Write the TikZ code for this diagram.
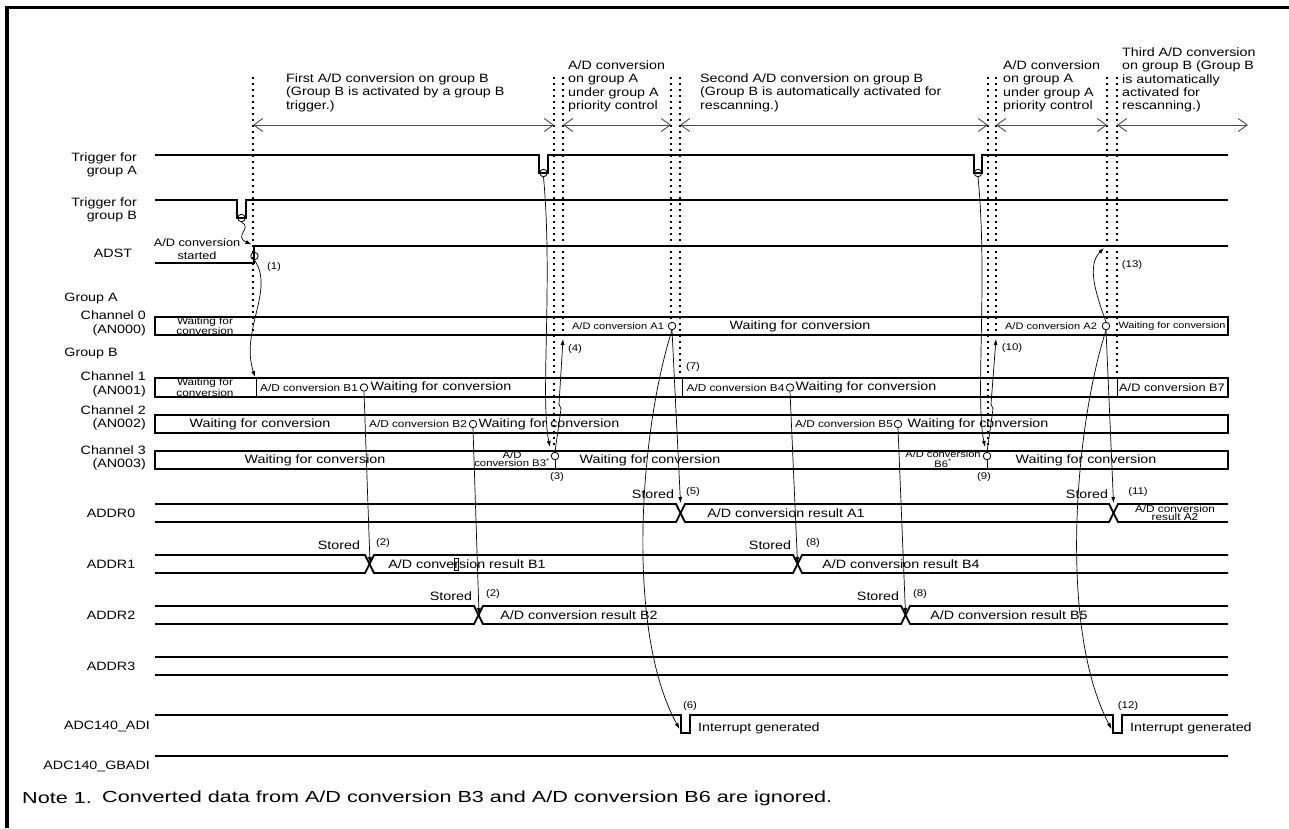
\documentclass[tikz,border=0pt]{standalone}
\usepackage{fontspec}
\setmainfont{Liberation Sans}[FakeStretch=1.18]
\newfontfamily\notefont{Liberation Sans}[FakeStretch=1.35]
\usetikzlibrary{arrows.meta,positioning}

\newcommand{\fs}[2]{\fontsize{#1}{#2}\selectfont}

\begin{document}
\begin{tikzpicture}[
  x=1pt, y=-1pt,
  txt/.style={font=\fs{12.1}{13.3}, inner sep=0pt, align=center},
  midtxt/.style={font=\fs{10.8}{13}, inner sep=0pt, align=center},
  smltxt/.style={font=\fs{10}{8.6}, inner sep=0pt, align=center},
  atxt/.style={font=\fs{9.4}{10}, inner sep=0pt},
  numtxt/.style={font=\fs{9.7}{10}, inner sep=0pt},
  hdtxt/.style={txt, align=left, anchor=north west},
  lbtxt/.style={txt, align=right, anchor=east},
  sig/.style={line width=1.8pt},
  lane/.style={line width=1.5pt},
  divider/.style={line width=0.8pt},
  phase/.style={line width=2.2pt, dash pattern=on 2.2pt off 3.8pt},
  spanarrow/.style={{Straight Barb[length=9pt,width=13pt]}-{Straight Barb[length=9pt,width=13pt]},
    black!70, line width=0.9pt},
  flow/.style={-{Latex[length=6pt,width=4pt]}, line width=0.7pt},
  ring/.style={circle, draw, inner sep=0pt, minimum size=7.5pt, line width=0.8pt},
  chring/.style={ring, fill=white}
]
\useasboundingbox (0,0) rectangle (1289,828);
\draw[line width=3.3pt] (7,828) -- (7,7.7) -- (1289,7.7);

% phase boundaries and spans
\foreach \x/\ylow [count=\i] in {253/332,554/447,563/335,671/320,680/376,988/447,996/335,1107/320,1117/377}{
  \coordinate (ph\i) at (\x,125);
  \draw[phase] (\x,77) -- (\x,\ylow);
}
\coordinate (phend) at (1248,125);
\draw[spanarrow] (ph1) -- (ph2);
\draw[spanarrow] (ph3) -- (ph4);
\draw[spanarrow] (ph5) -- (ph6);
\draw[spanarrow] (ph7) -- (ph8);
\draw[spanarrow] (ph9) -- (phend);

\node[hdtxt] (hdfirst) at (286,73.5) {First A/D conversion on group B\\(Group B is activated by a group B\\trigger.)};
\node[hdtxt] (hdprioa) at (568,60.5) {A/D conversion\\on group A\\under group A\\priority control};
\node[hdtxt] (hdsecond) at (700,73.5) {Second A/D conversion on group B\\(Group B is automatically activated for\\rescanning.)};
\node[hdtxt] (hdpriob) at (1003,60.5) {A/D conversion\\on group A\\under group A\\priority control};
\node[hdtxt] (hdthird) at (1122,47.5) {Third A/D conversion\\on group B (Group B\\is automatically\\activated for\\rescanning.)};

% signal names
\node[lbtxt] (lbtrga) at (137,165) {Trigger for\\group A};
\node[lbtxt] (lbtrgb) at (137,210) {Trigger for\\group B};
\node[txt] (lbadst) at (113,253) {ADST};
\node[txt] (lbgrpa) at (91,299) {Group A};
\node[lbtxt] (lbch0) at (146,323.5) {Channel 0\\(AN000)};
\node[txt] (lbgrpb) at (91,354) {Group B};
\node[lbtxt] (lbch1) at (146,384.5) {Channel 1\\(AN001)};
\node[lbtxt] (lbch2) at (146,418) {Channel 2\\(AN002)};
\node[lbtxt] (lbch3) at (146,458) {Channel 3\\(AN003)};
\node[txt] (lbaddr0) at (111,513) {ADDR0};
\node[txt] (lbaddr1) at (111,564) {ADDR1};
\node[txt] (lbaddr2) at (111,615) {ADDR2};
\node[txt] (lbaddr3) at (111,666) {ADDR3};
\node[lbtxt] (lbadi) at (150,726) {ADC140\_ADI};
\node[lbtxt] (lbgbadi) at (150,766) {ADC140\_GBADI};

% triggers and ADST
\draw[sig] (155,155) -- (539,155) -- (539,173) -- (548,173) -- (548,155) -- (974,155)
  -- (974,173) -- (982,173) -- (982,155) -- (1228,155);
\draw[sig] (155,200) -- (237,200) -- (237,218) -- (246,218) -- (246,200) -- (1228,200);
\draw[sig] (155,263) -- (254,263) -- (254,246) -- (1228,246);
\node[ring] (trga1) at (543.5,173) {};
\node[ring] (trga2) at (978,173) {};
\node[ring] (trgb) at (241.5,218) {};
\node[ring] (adst) at (254.5,256) {};
\node[midtxt] (lbstart) at (197,249.5) {A/D conversion\\started};

% channel lanes
\draw[lane] (155,317) rectangle (1228,335);
\draw[lane] (155,378) rectangle (1228,397);
\draw[lane] (155,415) rectangle (1228,433);
\draw[lane] (155,451) rectangle (1228,469);
\draw[divider] (256,378) -- (256,397);
\draw[divider] (682,378) -- (682,397);
\draw[divider] (1117,378) -- (1117,397);

\node[smltxt] (c0wait1) at (205,326) {Waiting for\\conversion};
\node[atxt] (c0a1) at (618,326) {A/D conversion A1};
\node[txt] (c0wait2) at (800,326) {Waiting for conversion};
\node[atxt] (c0a2) at (1051,326) {A/D conversion A2};
\node[font=\fs{9.2}{10}, inner sep=0pt] (c0wait3) at (1172,326) {Waiting for conversion};

\node[smltxt] (c1wait1) at (205,387.5) {Waiting for\\conversion};
\node[font=\fs{10}{10}, inner sep=0pt] (c1b1) at (309,387.5) {A/D conversion B1};
\node[txt] (c1wait2) at (441,387.5) {Waiting for conversion};
\node[font=\fs{10}{10}, inner sep=0pt] (c1b4) at (735.5,387.5) {A/D conversion B4};
\node[txt] (c1wait3) at (866,387.5) {Waiting for conversion};
\node[midtxt] (c1b7) at (1172,387.5) {A/D conversion B7};

\node[txt] (c2wait1) at (260,424) {Waiting for conversion};
\node[font=\fs{10}{10}, inner sep=0pt] (c2b2) at (418,424) {A/D conversion B2};
\node[txt] (c2wait2) at (549,424) {Waiting for conversion};
\node[font=\fs{10}{10}, inner sep=0pt] (c2b5) at (844,424) {A/D conversion B5};
\node[txt] (c2wait3) at (978,424) {Waiting for conversion};

\node[txt] (c3wait1) at (315,460) {Waiting for conversion};
\node[smltxt, font=\fs{9.6}{8.6}] (c3b3) at (512,459) {A/D\\conversion B3\textsuperscript{*}};
\node[txt] (c3wait2) at (650,460) {Waiting for conversion};
\node[smltxt, font=\fs{9.4}{8}] (c3b6) at (943,459) {A/D conversion\\B6\textsuperscript{*}};
\node[txt] (c3wait3) at (1086,460) {Waiting for conversion};

\node[chring] (a1) at (672,326) {};
\node[chring] (a2) at (1106,326) {};
\node[chring] (b1) at (364,387.5) {};
\node[chring] (b4) at (790,387.5) {};
\node[chring] (b2) at (473,424) {};
\node[chring] (b5) at (898,424) {};
\node[chring] (b3) at (555,456) {};
\node[chring] (b6) at (987,456) {};
\draw[divider] (b3.south) -- (555,469);
\draw[divider] (b6.south) -- (987,469);

% result registers
\draw[sig] (155,504) -- (676,504) -- (685,522) -- (1109,522) -- (1118,504) -- (1228,504);
\draw[sig] (155,522) -- (676,522) -- (685,504) -- (1109,504) -- (1118,522) -- (1228,522);
\draw[sig] (155,555) -- (365,555) -- (374,573) -- (793,573) -- (802,555) -- (1228,555);
\draw[sig] (155,573) -- (365,573) -- (374,555) -- (793,555) -- (802,573) -- (1228,573);
\draw[sig] (155,606) -- (474,606) -- (483,624) -- (901,624) -- (910,606) -- (1228,606);
\draw[sig] (155,624) -- (474,624) -- (483,606) -- (901,606) -- (910,624) -- (1228,624);
\draw[sig] (155,657) -- (1228,657);
\draw[sig] (155,675) -- (1228,675);
\draw[line width=0.6pt] (454,558) rectangle (458,570);

\node[txt] (r0a1) at (786,513) {A/D conversion result A1};
\node[smltxt] (r0a2) at (1175,513) {A/D conversion\\result A2};
\node[txt] (r1b1) at (467,564) {A/D conversion result B1};
\node[txt] (r1b4) at (901,564) {A/D conversion result B4};
\node[txt] (r2b2) at (579,615) {A/D conversion result B2};
\node[txt] (r2b5) at (1009,615) {A/D conversion result B5};

\node[txt] (st5) at (653,494) {Stored};
\node[txt] (st11) at (1087,494) {Stored};
\node[txt] (st2a) at (339,545) {Stored};
\node[txt] (st8a) at (770,545) {Stored};
\node[txt] (st2b) at (451,596) {Stored};
\node[txt] (st8b) at (878,596) {Stored};

% interrupts
\draw[sig] (155,715) -- (681,715) -- (681,733) -- (690,733) -- (690,715) -- (1113,715)
  -- (1113,733) -- (1122,733) -- (1122,715) -- (1228,715);
\draw[sig] (155,756) -- (1228,756);
\node[txt, anchor=west] (irq1) at (698,728) {Interrupt generated};
\node[txt, anchor=west] (irq2) at (1130,728) {Interrupt generated};

% step numbers
\node[numtxt] (n1) at (274,267) {(1)};
\node[numtxt] (n2a) at (383,543) {(2)};
\node[numtxt] (n2b) at (493,594) {(2)};
\node[numtxt] (n3) at (557,477) {(3)};
\node[numtxt] (n4) at (575,349) {(4)};
\node[numtxt] (n5) at (693,492) {(5)};
\node[numtxt] (n6) at (690,706) {(6)};
\node[numtxt] (n7) at (693,367) {(7)};
\node[numtxt] (n8a) at (813,543) {(8)};
\node[numtxt] (n8b) at (920,594) {(8)};
\node[numtxt] (n9) at (984,477) {(9)};
\node[numtxt] (n10) at (1012,348) {(10)};
\node[numtxt] (n11) at (1138,492) {(11)};
\node[numtxt] (n12) at (1128,706) {(12)};
\node[numtxt] (n13) at (1132,265) {(13)};

% connectors
\coordinate (adstup) at (251.5,244.5);
\coordinate (c1in) at (255,377);
\coordinate (c3ina) at (550,447);
\coordinate (c3inb) at (985,447);
\coordinate (c0ina) at (563,339);
\coordinate (c0inb) at (996,339);
\coordinate (adst13) at (1104,248);
\coordinate (xa1) at (680.5,503);
\coordinate (xa2) at (1113.5,503);
\coordinate (xb1) at (370,563);
\coordinate (xb4) at (797.5,563);
\coordinate (xb2) at (479,614);
\coordinate (xb5) at (905.5,614);
\coordinate (adi1) at (679.5,729);
\coordinate (adi2) at (1111.5,729);

\draw[flow] (trgb.south) .. controls (253,228) and (233,236) .. (adstup);
\draw[flow] (adst.south) .. controls (275,290) and (240,330) .. (c1in);
\draw[flow] (trga1.south) .. controls (553,280) and (540,400) .. (c3ina);
\draw[flow] (trga2.south) .. controls (988,280) and (975,400) .. (c3inb);
\draw[flow] (b3.north) -- (561,409) -- (559,404) -- (c0ina);
\draw[flow] (b6.north) -- (993,409) -- (991,404) -- (c0inb);
\draw[flow] (b1.south) -- (xb1);
\draw[flow] (b4.south) -- (xb4);
\draw[flow] (b2.south) -- (xb2);
\draw[flow] (b5.south) -- (xb5);
\draw[flow] (a1.south) -- (xa1);
\draw[flow] (a2.south) -- (xa2);
\draw[flow] (a1.south) .. controls (640,430) and (625,630) .. (adi1);
\draw[flow] (a2.south) .. controls (1074,430) and (1059,630) .. (adi2);
\draw[flow] (a2.north) .. controls (1095,292) and (1087,265) .. (adst13);

\node[font=\notefont\fs{16}{18}, inner sep=0pt, anchor=west] (notehd) at (22,798) {Note 1.};
\node[font=\notefont\fs{16}{18}, inner sep=0pt, anchor=west] (notetxt) at (102,798)
  {Converted data from A/D conversion B3 and A/D conversion B6 are ignored.};
\end{tikzpicture}
\end{document}
